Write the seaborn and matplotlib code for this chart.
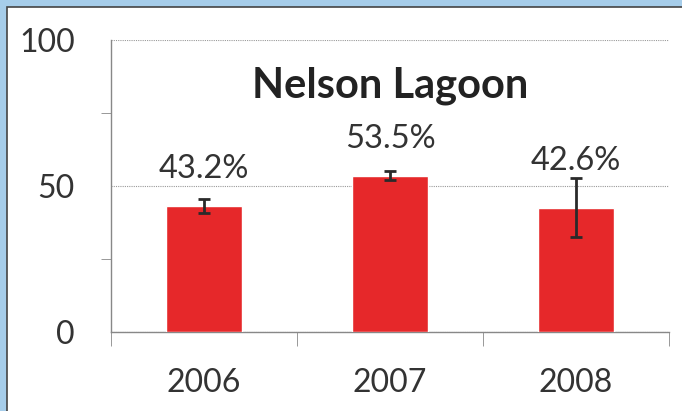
import matplotlib
matplotlib.use("Agg")
import matplotlib.pyplot as plt
import seaborn as sns
import pandas as pd
from matplotlib.patches import Rectangle

# data
years = ["2006", "2007", "2008"]
values = [43.2, 53.5, 42.6]
errors = [2.5, 1.5, 10.0]
labels = ["43.2%", "53.5%", "42.6%"]
title = "Nelson Lagoon"

df = pd.DataFrame({"year": years, "value": values})

sns.set_style("white")
plt.rcParams["font.family"] = ["Lato", "DejaVu Sans"]

fig = plt.figure(figsize=(6.82, 4.11), dpi=100, facecolor="#a6cdea")
# white panel with thin dark border, kept behind the axes
fig.patches.append(Rectangle((7 / 682, -0.05), 1.0, 1 - 7 / 411 + 0.05,
                             transform=fig.transFigure, facecolor="white",
                             edgecolor="#444444", linewidth=1.2, zorder=-10))

ax = fig.add_axes([111 / 682, 79 / 411, 558 / 682, 292 / 411])
ax.set_facecolor("none")

sns.barplot(data=df, x="year", y="value", color="#e6282a", width=0.41,
            saturation=1, ax=ax, zorder=3)
ax.errorbar(range(len(years)), values, yerr=errors, fmt="none",
            ecolor="#2a2a2a", elinewidth=2, capsize=4, capthick=2, zorder=4)

# value labels above bars, kept clear of the error bars
for i, (v, e, lab) in enumerate(zip(values, errors, labels)):
    ax.text(i, max(v + 12.5, v + e + 6), lab, ha="center", va="center",
            fontsize=23.5, color="#333333")

ax.text(0.5, 0.842, title, transform=ax.transAxes, ha="center", va="center",
        fontsize=30, fontweight="bold", color="#222222")

ax.set_ylim(0, 100)
ax.set_xlim(-0.5, 2.5)
ax.set_yticks([0, 50, 100])
ax.set_yticks([25, 75], minor=True)
ax.set_xticks([-0.5, 0.5, 1.5, 2.5], minor=True)
ax.set_xlabel("")
ax.set_ylabel("")

ax.yaxis.grid(True, which="major", color="#999999", linestyle=(0, (1, 1)),
              linewidth=0.8, zorder=0)
ax.set_axisbelow(True)

for s in ["top", "right"]:
    ax.spines[s].set_visible(False)
for s in ["left", "bottom"]:
    ax.spines[s].set_color("#888888")
    ax.spines[s].set_linewidth(1)

ax.tick_params(axis="y", which="major", length=7, color="#888888",
               labelsize=23, labelcolor="#333333", pad=19)
ax.tick_params(axis="y", which="minor", length=7, color="#888888", left=True)
ax.tick_params(axis="x", which="major", length=0, labelsize=23,
               labelcolor="#333333", pad=26)
ax.tick_params(axis="x", which="minor", length=10, color="#888888",
               bottom=True, direction="out")

fig.savefig("out.png", dpi=100, facecolor=fig.get_facecolor())
